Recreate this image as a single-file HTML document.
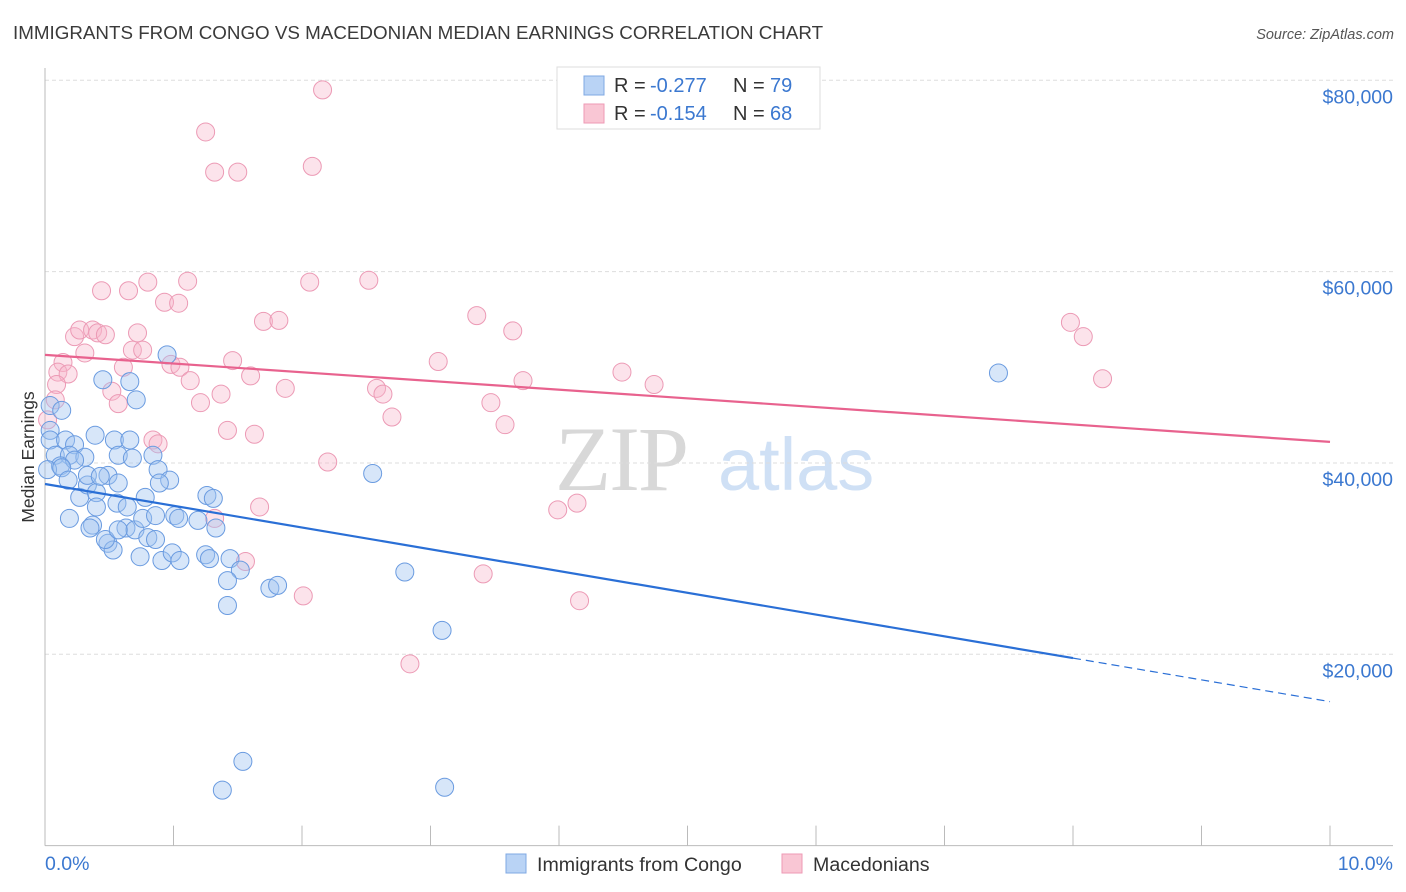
<!DOCTYPE html>
<html><head><meta charset="utf-8"><style>
body{margin:0;background:#fff;font-family:"Liberation Sans",sans-serif;}
svg{display:block}
</style></head><body>
<svg id="chart" width="1406" height="892" xmlns="http://www.w3.org/2000/svg">
<text x="13" y="39" font-size="18.8" fill="#3a3a3a">IMMIGRANTS FROM CONGO VS MACEDONIAN MEDIAN EARNINGS CORRELATION CHART</text>
<text x="1394" y="39" font-size="14.5" fill="#555" text-anchor="end" font-style="italic">Source: ZipAtlas.com</text>
<text transform="translate(34,457) rotate(-90)" font-size="17.5" fill="#333" text-anchor="middle">Median Earnings</text>
<g>
<text x="555" y="490" font-size="92" font-family="Liberation Serif,serif" fill="#d8d8d8" letter-spacing="-2">ZIP</text>
<text x="718" y="490" font-size="74" fill="#cfe0f5">atlas</text>
</g>
<g id="grid"></g>
<g id="axes"></g>
<g id="points"></g>
<g id="lines"></g>
<g>
<rect x="557" y="67" width="263" height="62" fill="#fff" stroke="#ddd"/>
<rect x="584" y="76" width="20" height="19" fill="#b9d3f5" stroke="#7fa8e3"/>
<rect x="584" y="104" width="20" height="19" fill="#f9c6d4" stroke="#ee9ab5"/>
<text y="92" font-size="20" fill="#333"><tspan x="614">R =</tspan><tspan x="650" fill="#3b78d0">-0.277</tspan><tspan x="733">N =</tspan><tspan x="770" fill="#3b78d0">79</tspan></text>
<text y="120" font-size="20" fill="#333"><tspan x="614">R =</tspan><tspan x="650" fill="#3b78d0">-0.154</tspan><tspan x="733">N =</tspan><tspan x="770" fill="#3b78d0">68</tspan></text>
</g>
<g>
<rect x="506" y="854" width="20" height="19" fill="#b9d3f5" stroke="#7fa8e3"/>
<text x="537" y="871" font-size="19.6" fill="#333">Immigrants from Congo</text>
<rect x="782" y="854" width="20" height="19" fill="#f9c6d4" stroke="#ee9ab5"/>
<text x="813" y="871" font-size="19.6" fill="#333">Macedonians</text>
</g>
<text x="45" y="870" font-size="19.5" fill="#3b78d0">0.0%</text>
<text x="1393" y="870" font-size="19.5" fill="#3b78d0" text-anchor="end">10.0%</text>
</svg>
<script>
const yTicks=[20000,40000,60000,80000];
const yTickLabels=["$20,000","$40,000","$60,000","$80,000"];
const xTicks=[0,1,2,3,4,5,6,7,8,9,10];
const congoX=[0.04,0.13,0.04,0.04,0.16,0.23,0.39,0.54,0.66,0.08,0.19,0.31,0.12,0.23,0.57,0.68,0.84,0.02,0.13,0.18,0.27,0.33,0.40,0.49,0.33,0.43,0.57,0.88,0.97,0.89,0.78,0.56,0.64,0.40,0.19,0.37,0.35,0.63,0.70,0.76,0.86,1.01,1.04,1.19,1.26,1.31,1.33,0.80,0.49,0.53,0.74,0.91,0.99,1.05,1.25,1.28,1.44,1.52,1.42,1.75,1.81,1.42,2.80,3.09,2.55,0.95,0.45,0.66,0.71,1.54,1.38,3.11,7.42,0.47,0.86,0.57];
const congoY=[46.0,45.5,43.4,42.4,42.4,41.9,42.9,42.4,42.4,40.8,40.8,40.6,39.7,40.3,40.8,40.5,40.8,39.3,39.5,38.2,36.4,37.7,36.9,38.7,38.7,38.6,37.9,39.3,38.2,37.9,36.4,35.8,35.4,35.4,34.2,33.5,33.2,33.2,33.0,34.2,34.5,34.5,34.2,34.0,36.6,36.3,33.2,32.2,31.6,30.9,30.2,29.8,30.6,29.8,30.4,30.0,30.0,28.8,27.7,26.9,27.2,25.1,28.6,22.5,38.9,51.3,48.7,48.5,46.6,8.8,5.8,6.1,49.4,32.0,32.0,33.0];
const macX=[2.16,1.25,2.08,1.32,1.50,2.06,2.52,0.80,1.11,0.44,0.65,0.93,1.04,1.70,1.82,3.36,3.64,0.23,0.27,0.37,0.41,0.47,0.72,0.68,0.76,0.31,0.14,1.46,3.06,0.10,0.18,0.61,0.98,1.05,1.60,1.13,4.49,4.74,3.72,0.09,0.52,1.37,1.87,2.58,2.63,0.08,0.57,1.21,3.47,2.70,3.58,1.42,1.63,0.84,0.88,2.20,1.67,4.14,3.99,1.32,1.56,3.41,2.01,4.16,2.84,7.98,8.08,8.23,0.02];
const macY=[79.0,74.6,71.0,70.4,70.4,58.9,59.1,58.9,59.0,58.0,58.0,56.8,56.7,54.8,54.9,55.4,53.8,53.2,53.9,53.9,53.6,53.4,53.6,51.8,51.8,51.5,50.5,50.7,50.6,49.5,49.3,50.0,50.3,50.0,49.1,48.6,49.5,48.2,48.6,48.2,47.5,47.2,47.8,47.8,47.2,46.6,46.2,46.3,46.3,44.8,44.0,43.4,43.0,42.4,42.0,40.1,35.4,35.8,35.1,34.2,29.7,28.4,26.1,25.6,19.0,54.7,53.2,48.8,44.5];
const congoTrend=[37.8,-2.275];
const macTrend=[51.3,-0.91];
const congoSolidEnd=8.0;

const NS="http://www.w3.org/2000/svg";
const X0=45,X1=1330,Ytop=80.3,Ybot=845.6;
const sx=p=>X0+p*(X1-X0)/10;
const sy=v=>Ybot-v*(Ybot-Ytop)/80000;
function mk(tag,attrs,parent){const e=document.createElementNS(NS,tag);for(const k in attrs)e.setAttribute(k,attrs[k]);parent.appendChild(e);return e;}
const grid=document.getElementById('grid'),axes=document.getElementById('axes'),pts=document.getElementById('points'),lines=document.getElementById('lines');
yTicks.forEach((t,i)=>{
  const g=mk('line',{x1:X0,x2:1393,y1:sy(t),y2:sy(t),stroke:'#ddd','stroke-dasharray':'4,3'},grid);
  
  
  const tx=mk('text',{x:1393,y:sy(t)+23,'font-size':19.5,fill:'#3b78d0','text-anchor':'end'},axes);
  tx.textContent=yTickLabels[i];
  
  
});
const ax=mk('line',{x1:X0,x2:1393,y1:Ybot,y2:Ybot,stroke:'#bbb'},axes);


const ay=mk('line',{x1:X0,x2:X0,y1:68,y2:Ybot,stroke:'#bbb'},axes);


xTicks.forEach(t=>{
  const l=mk('line',{x1:sx(t),x2:sx(t),y1:Ybot,y2:Ybot-20,stroke:'#bbb'},axes);
  
  
});
function plot(xs,ys,fill,stroke,name){
  xs.forEach((x,i)=>{
    const c=mk('circle',{cx:sx(x),cy:sy(ys[i]*1000),r:9,fill:fill,stroke:stroke,'stroke-width':1},pts);
    
    
  });
}
plot(macX,macY,'rgba(248,182,202,0.38)','#ec9ab5','macedonian-point');
plot(congoX,congoY,'rgba(160,195,240,0.42)','#6a9be0','congo-point');
const tv=(tr,p)=>(tr[0]+tr[1]*p)*1000;
let l1=mk('line',{x1:sx(0),y1:sy(tv(macTrend,0)),x2:sx(10),y2:sy(tv(macTrend,10)),stroke:'#e8628e','stroke-width':2.2},lines);


let l2=mk('line',{x1:sx(0),y1:sy(tv(congoTrend,0)),x2:sx(congoSolidEnd),y2:sy(tv(congoTrend,congoSolidEnd)),stroke:'#2a6fd6','stroke-width':2.2},lines);


let l3=mk('line',{x1:sx(congoSolidEnd),y1:sy(tv(congoTrend,congoSolidEnd)),x2:sx(10),y2:sy(tv(congoTrend,10)),stroke:'#2a6fd6','stroke-width':1.2,'stroke-dasharray':'8,5'},lines);


</script>
</body></html>
